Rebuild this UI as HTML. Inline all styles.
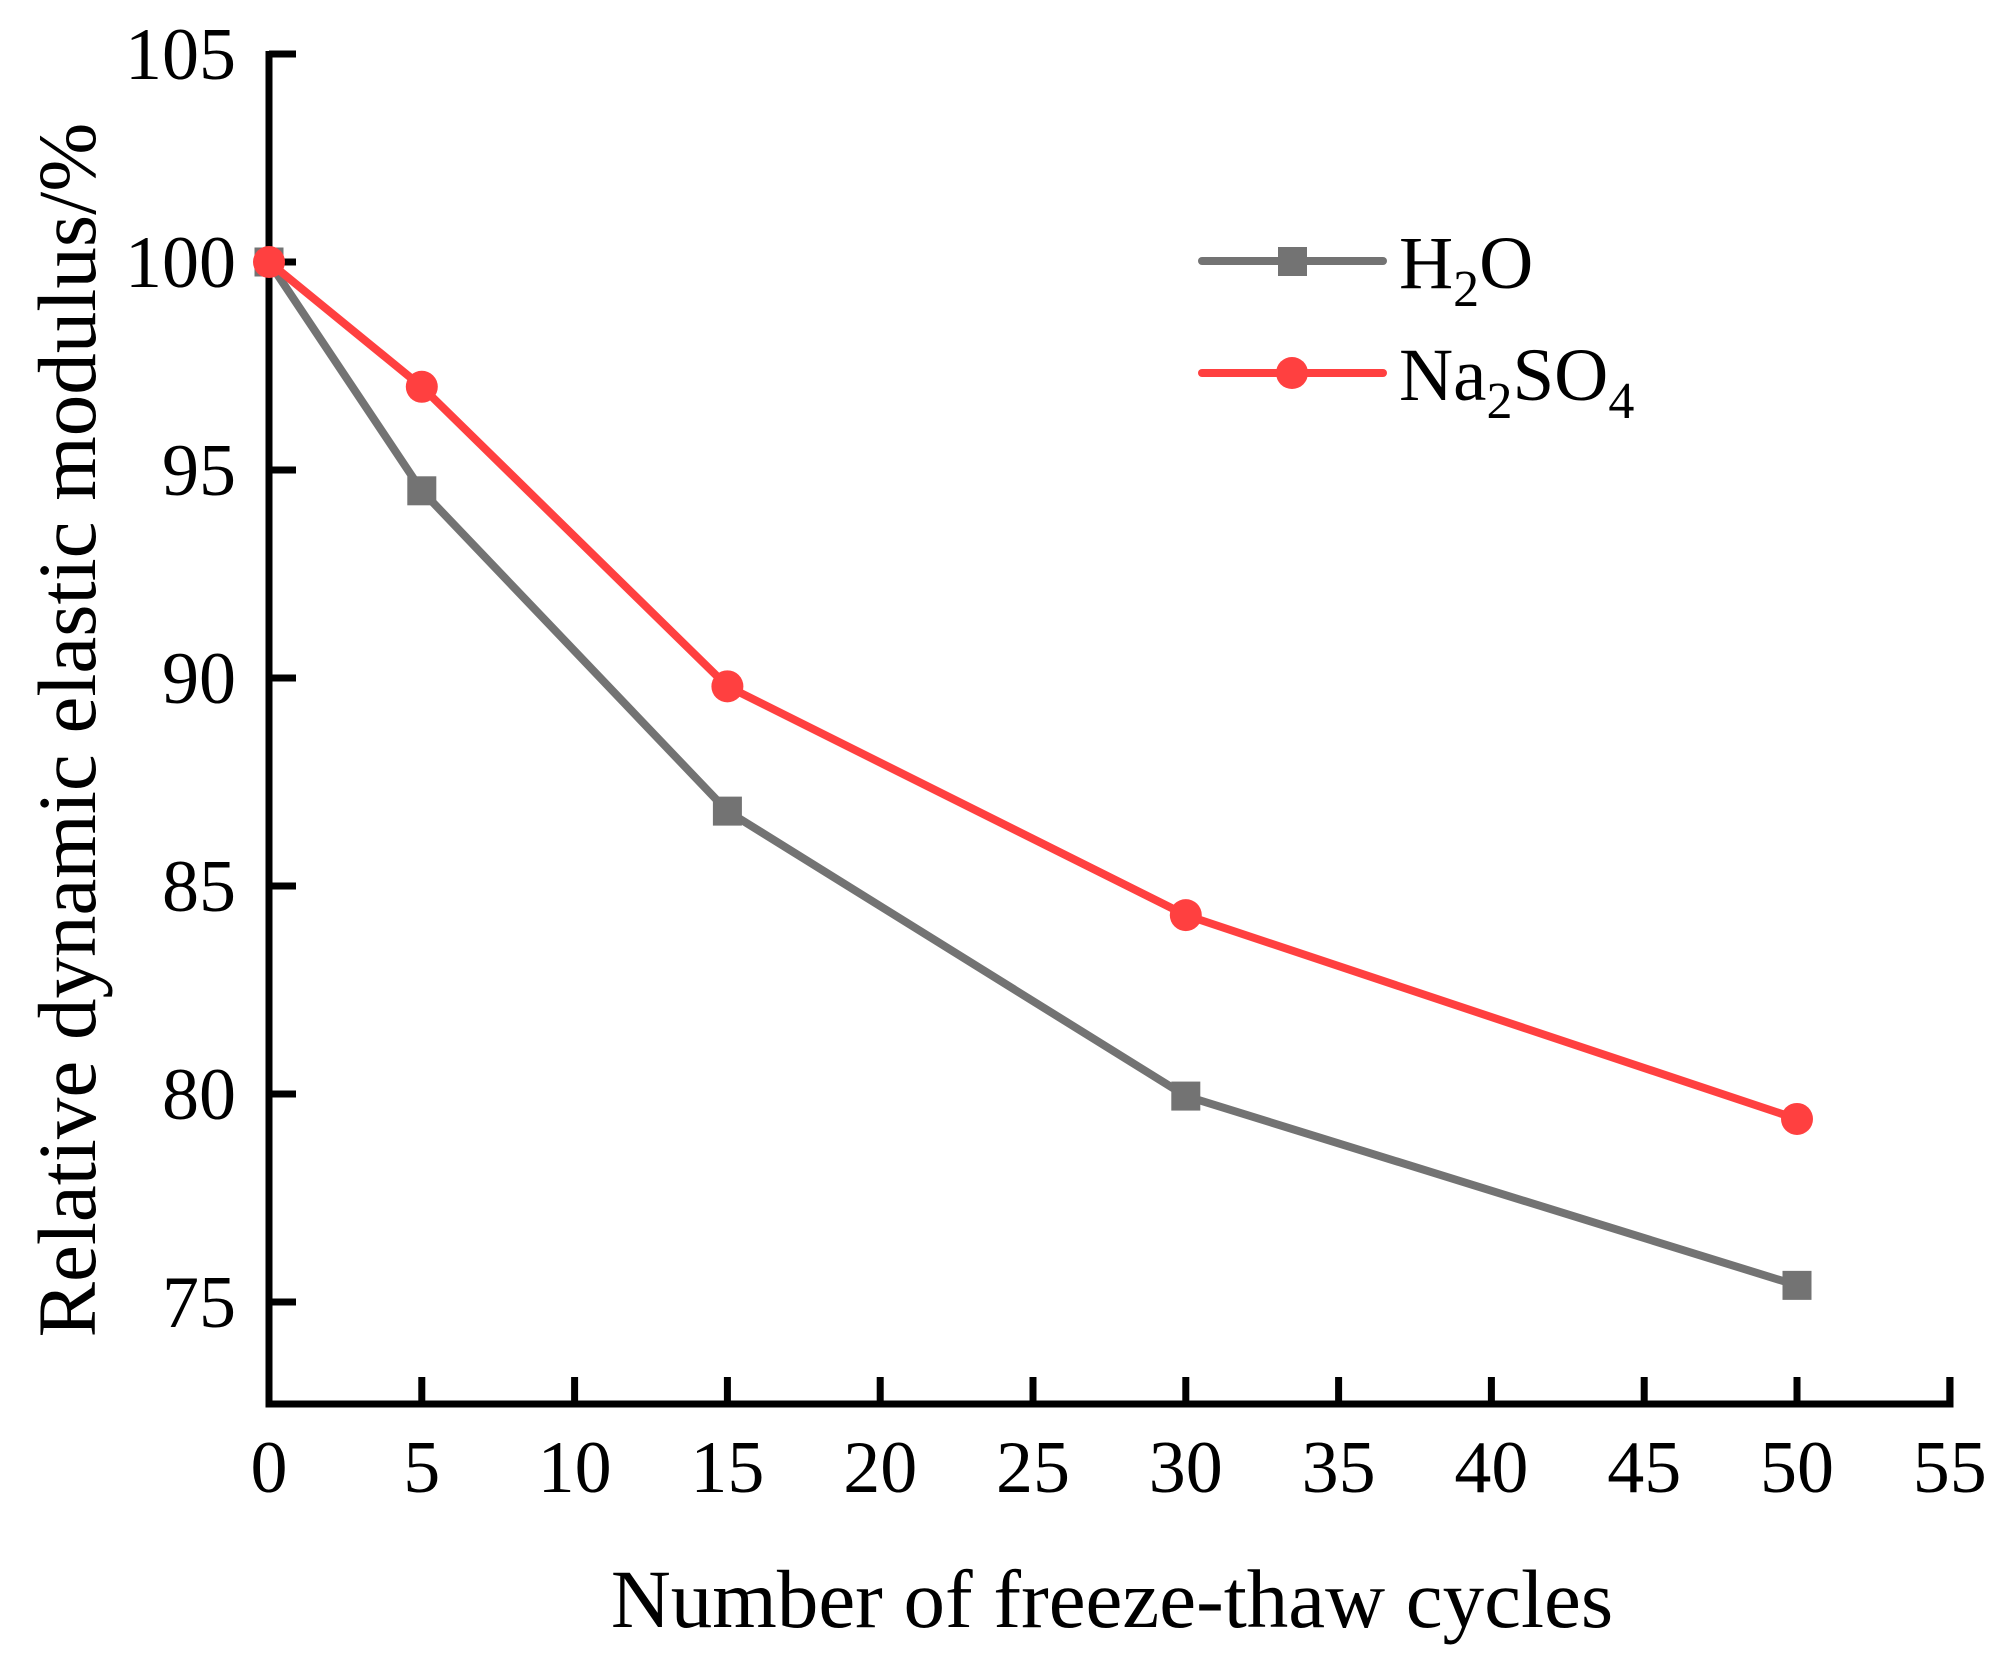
<!DOCTYPE html>
<html><head><meta charset="utf-8"><style>
html,body{margin:0;padding:0;background:#fff;}
svg{display:block;font-family:"Liberation Serif",serif;}
</style></head><body>
<svg id="chart" width="2011" height="1669" viewBox="0 0 2011 1669">
<g id="axes"></g>
<g id="series"></g>
<text x="0" y="0" transform="translate(95,730) rotate(-90)" text-anchor="middle" font-size="83">Relative dynamic elastic modulus/%</text>
<text x="1112" y="1627" text-anchor="middle" font-size="83">Number of freeze-thaw cycles</text>
<g>
 <g>
  <line x1="1202" y1="261" x2="1383" y2="261" stroke="#737373" stroke-width="8" stroke-linecap="round"/>
  <rect x="1278" y="247" width="29" height="29" fill="#737373"/>
  <text x="1399" y="288" font-size="75">H<tspan font-size="52" dy="18">2</tspan><tspan dy="-18">O</tspan></text>
 </g>
 <g>
  <line x1="1202" y1="373" x2="1383" y2="373" stroke="#ff4040" stroke-width="8" stroke-linecap="round"/>
  <circle cx="1292" cy="373" r="16" fill="#ff4040"/>
  <text x="1399" y="400" font-size="75">Na<tspan font-size="52" dy="18">2</tspan><tspan dy="-18">SO</tspan><tspan font-size="52" dy="18">4</tspan></text>
 </g>
</g>
</svg>
<script>
const xCategories = [0, 5, 15, 30, 50];
const h2oValues = [100, 94.5, 86.8, 79.95, 75.4];
const na2so4Values = [100, 97.0, 89.8, 84.3, 79.4];
const xTickLabels = [0, 5, 10, 15, 20, 25, 30, 35, 40, 45, 50, 55];
const yTickLabels = [75, 80, 85, 90, 95, 100, 105];

const NS = 'http://www.w3.org/2000/svg';
const X0 = 269, XPER = 152.8 / 5;
const Y100 = 262, YPER = 208 / 5;
const AXIS_Y = 1404, AXIS_TOP = 51, AXIS_RIGHT = 1950;
function sx(v){ return X0 + v * XPER; }
function sy(v){ return Y100 - (v - 100) * YPER; }
function mk(tag, attrs, parent){
  const e = document.createElementNS(NS, tag);
  for (const k in attrs) e.setAttribute(k, attrs[k]);
  parent.appendChild(e); return e;
}
const axes = document.getElementById('axes');
const xa = mk('path', {d:`M${X0} ${AXIS_TOP} L${X0} ${AXIS_Y} L${AXIS_RIGHT} ${AXIS_Y} L${AXIS_RIGHT} ${AXIS_Y-27}`, fill:'none', stroke:'#000', 'stroke-width':7, 'stroke-linejoin':'miter'}, axes);


xTickLabels.forEach(v => {
  const x = sx(v);
  const t = mk('line', {x1:x, y1:AXIS_Y, x2:x, y2:AXIS_Y-27, stroke:'#000', 'stroke-width':7}, axes);
  
  
  const l = mk('text', {x:x, y:1492, 'text-anchor':'middle', 'font-size':74}, axes);
  l.textContent = v;
  
  
});
yTickLabels.forEach(v => {
  const y = sy(v);
  const t = mk('line', {x1:X0, y1:y, x2:X0+27, y2:y, stroke:'#000', 'stroke-width':7}, axes);
  
  
  const l = mk('text', {x:236, y:y+25, 'text-anchor':'end', 'font-size':74}, axes);
  l.textContent = v;
  
  
});
const series = document.getElementById('series');
function drawSeries(vals, color, kind, name){
  const g = mk('g', {}, series);
  
  
  const pts = xCategories.map((c,i) => sx(c)+','+sy(vals[i])).join(' ');
  const pl = mk('polyline', {points:pts, fill:'none', stroke:color, 'stroke-width':8, 'stroke-linejoin':'round'}, g);
  
  
  xCategories.forEach((c,i) => {
    const x = sx(c), y = sy(vals[i]);
    let m;
    if (kind === 'square') m = mk('rect', {x:x-14.5, y:y-14.5, width:29, height:29, fill:color}, g);
    else m = mk('circle', {cx:x, cy:y, r:16, fill:color}, g);
    
    
  });
}
drawSeries(h2oValues, '#737373', 'square', 'h2o-series');
drawSeries(na2so4Values, '#ff4040', 'circle', 'na2so4-series');
</script>
</body></html>
